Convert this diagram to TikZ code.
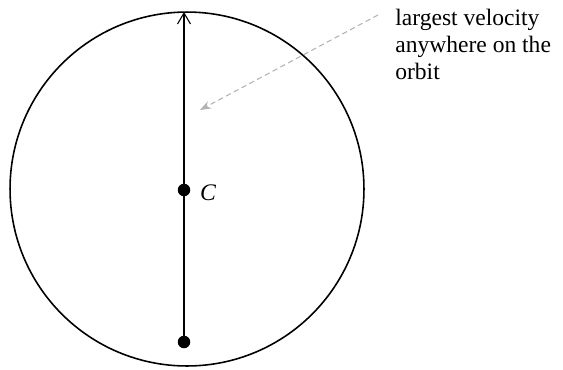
\documentclass[tikz,border=0pt]{standalone}
\usepackage{fontspec}
\setmainfont{Liberation Serif}
\usetikzlibrary{arrows.meta}
\tikzset{
    orbit/.style={draw=black, line width=0.9pt},
    dot/.style={circle, fill=black, inner sep=0pt, minimum size=0.25cm},
    radius line/.style={line width=0.6pt, -{Straight Barb[length=0.22cm,width=0.26cm]}},
    pointer/.style={gray!60, dashed, dash pattern=on 3pt off 2pt, line width=0.6pt, -{Stealth[length=0.22cm,width=0.16cm]}},
    note/.style={align=left, font=\fontsize{13.4}{15.3}\selectfont, inner sep=0pt}
}
\begin{document}
\begin{tikzpicture}[x=0.02cm, y=-0.02cm]
    \useasboundingbox (0,0) rectangle (563,369);

    % orbit
    \draw[orbit] (187,189) circle[radius=3.54cm];

    % centre and bottom points
    \node[dot] (centre) at (184,190) {};
    \node[dot] (low) at (184,342) {};
    \coordinate (top) at (184,12);
    \node[anchor=west, font=\fontsize{13.5}{15}\selectfont\itshape] (clabel) at (194,193) {C};

    % velocity arrow
    \draw[radius line] (low.center) -- (top);

    % annotation
    \node[note, anchor=north west] (label) at (395,9) {largest velocity\\anywhere on the\\orbit};
    \coordinate (from) at (378,15);
    \coordinate (to) at (200,110);
    \draw[pointer] (from) -- (to);
\end{tikzpicture}
\end{document}
